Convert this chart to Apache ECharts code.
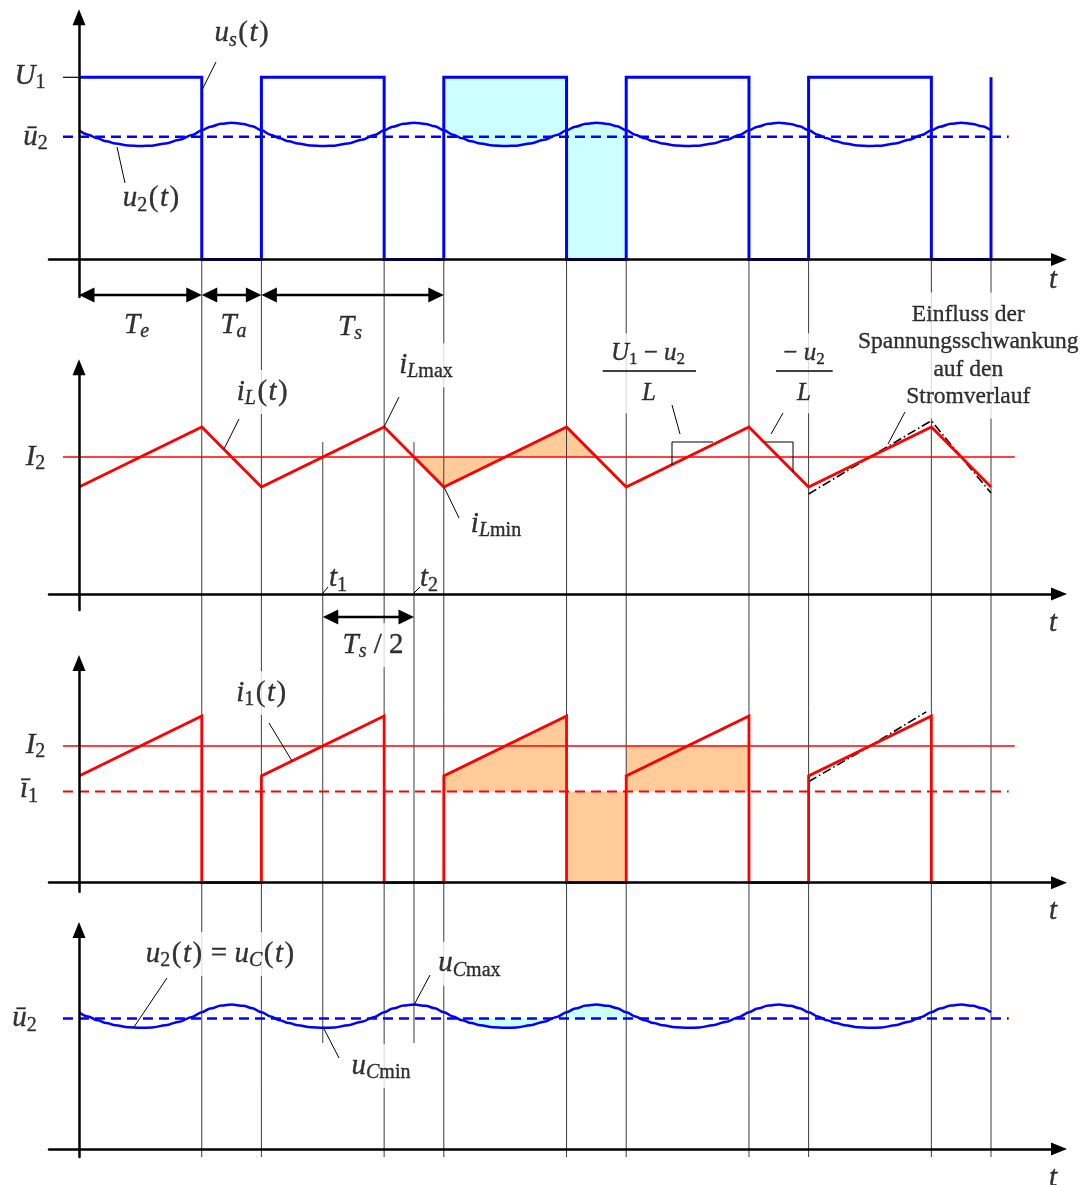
<!DOCTYPE html>
<html>
<head>
<meta charset="utf-8">
<script src="https://cdn.jsdelivr.net/npm/echarts@6.0.0/dist/echarts.min.js"></script>
<style>
html,body{margin:0;padding:0;background:#fff;overflow:hidden}
#chart{width:1085px;height:1185px}
</style>
</head>
<body>
<div id="chart"></div>
<script>
// ================= DATA =================
// time in units of the switching period Ts
const periodStarts = [0, 1, 2, 3, 4];
const periodEnd = 5;
const onTime = 0.673;            // Te / Ts
const tCross1 = 1.3365;          // t1
const tCross2 = 1.8365;          // t2
const tCross3 = 2.8365;          // next falling crossing of I2

// panel 1 : switch voltage and output voltage
const U1 = 1;
const u2Mean1 = 0.674;
// one period of the output-voltage ripple (offset from the mean)
const u2PeriodT = [0, 0.05, 0.1, 0.15, 0.2, 0.27, 0.3365, 0.4, 0.475, 0.55, 0.62, 0.673, 0.72, 0.78, 0.8365, 0.9, 0.95];
const u2Ripple  = [0.035, 0.011, -0.009, -0.025, -0.037, -0.048, -0.051, -0.049, -0.037, -0.017, 0.009, 0.035, 0.055, 0.071, 0.077, 0.070, 0.057];
const u2Mean4 = 0.716;           // level of ū2 in panel 4

// panel 2 / 3 : currents
const I2 = 1;
const iLmax = 1.219;
const iLmin = 0.781;
const i1Mean = 0.667;
const iLDistT = [4, 4.3365, 4.673, 4.8365, 5];
const iLDistV = [0.730, 1.000, 1.265, 1.000, 0.737];
const i1DistT = [4, 4.3365, 4.645];
const i1DistV = [0.739, 1.000, 1.250];

// extents of the horizontal reference lines
const levelStart = -0.088;
const I2End = 5.13;
const meanEnd = 5.097;

// shaded periods
const cyanPeriod = 2;
const cyan4From = 2.05, cyan4To = 3.05;
const orangePeriod = 2;

// ================= LAYOUT =================
const X0 = 79, PXT = 182.4;
const X = px => (px - X0) / PXT;           // overlay helper: pixel column -> t
const xMin = X(49), xMax = X(1059);
const F = '"Liberation Serif","Times New Roman",serif';
const BLUE = '#0000ff', RED = '#ff0000', CYAN = '#ccffff', ORANGE = '#ffcc99';

const gridBoxes = [
  {top: 17.3, height: 279.7},
  {top: 367.3, height: 242.7},
  {top: 663, height: 228.7},
  {top: 930, height: 227},
  {top: 0, height: 1185}
];
const yRanges = [[-0.2058, 1.3293], [-0.1168, 1.6547], [-0.0658, 1.6072], [-0.0439, 1.2020], [0, 1185]];

// ================= BUILD SERIES DATA =================
function buildU2(mean) {
  const pts = [];
  periodStarts.forEach(k => u2PeriodT.forEach((t, j) => pts.push([k + t, mean + u2Ripple[j]])));
  pts.push([periodEnd, mean + u2Ripple[0]]);
  return pts;
}
const u2Top = buildU2(u2Mean1);
const u2Bot = buildU2(u2Mean4);
const inRange = (pts, a, b) => pts.filter(p => p[0] >= a - 1e-9 && p[0] <= b + 1e-9);

const us = [];
periodStarts.forEach(k => us.push([k, U1], [k + onTime, U1], [k + onTime, 0], [k + 1, 0]));
us.push([periodEnd, U1]);

const iL = [];
periodStarts.forEach(k => iL.push([k, iLmin], [k + onTime, iLmax]));
iL.push([periodEnd, iLmin]);

const i1 = [];
periodStarts.forEach(k => i1.push([k, iLmin], [k + onTime, iLmax], [k + onTime, 0], [k + 1, 0]));

const zip = (a, b) => a.map((t, i) => [t, b[i]]);

// ================= ANNOTATIONS (overlay pixel rows) =================
const guideTimes = [];
periodStarts.forEach(k => guideTimes.push(k + onTime, k + 1));
const guides = guideTimes.map(t => [t, 259.5, 1157]).concat([[tCross1, 442, 1043], [tCross2, 442, 1043]]);

const annoLines = [
  {pts: [[63, 77.3], [79, 77.3]], w: 1.2},
  {pts: [[216, 62], [202, 90]], w: 1},
  {pts: [[117, 147], [125, 183]], w: 1},
  {pts: [[239, 419], [224, 449]], w: 1},
  {pts: [[399, 397], [384, 427]], w: 1},
  {pts: [[444, 487], [459, 518]], w: 1},
  {pts: [[328, 587], [323, 593]], w: 1},
  {pts: [[420, 587], [414, 593]], w: 1},
  {pts: [[672, 405], [680, 434]], w: 1},
  {pts: [[771, 434], [783, 413]], w: 1},
  {pts: [[905, 412], [888, 444]], w: 1},
  {pts: [[269, 723], [292, 761]], w: 1},
  {pts: [[167, 978], [134, 1027]], w: 1},
  {pts: [[430, 975], [414, 1005]], w: 1},
  {pts: [[339, 1058], [323, 1027]], w: 1},
  {pts: [[602.7, 371], [696, 371]], w: 1.5},
  {pts: [[776, 371], [832.7, 371]], w: 1.5},
  {pts: [[672, 465], [672, 442], [713, 442]], w: 1},
  {pts: [[765, 442], [793, 442], [793, 472]], w: 1}
];
const dimArrows = [
  [0, onTime, 295], [onTime, 1, 295], [1, 2, 295], [tCross1, tCross2, 617]
];

const L = (px, py, fmt, extra) => ({value: [X(px), py], label: Object.assign({formatter: fmt}, extra || {})});
const labels = [
  L(242.3, 33.5, '{v|u}{s|s}{p|(}{v|t}{p|)}'),
  L(30, 76.2, '{v|U}{sr|1}'),
  L(35.5, 137, '{v|ū}{sr|2}'),
  L(151.7, 198.5, '{v|u}{sr|2}{p|(}{v|t}{p|)}'),
  L(136.5, 325.2, '{v|T}{s|e}'),
  L(233.5, 325.2, '{v|T}{s|a}'),
  L(350, 327.2, '{v|T}{s|s}'),
  L(1053, 280.5, '{v|t}'),
  L(263, 391.9, '{v|i}{s|L}{p|(}{v|t}{p|)}'),
  L(426, 365.2, '{v|i}{s|L}{sr|max}'),
  L(35.5, 456.9, '{v|I}{sr|2}'),
  L(496, 524.2, '{v|i}{s|L}{sr|min}'),
  L(338, 578.5, '{v|t}{sr|1}', {padding: [3, 1]}),
  L(429, 578.5, '{v|t}{sr|2}', {padding: [3, 1]}),
  L(1053, 623.5, '{v|t}'),
  L(373, 645.2, '{v|T}{s|s}{r| / 2}'),
  L(648, 353.3, '{fv|U}{fsr|1}{fr| − }{fv|u}{fsr|2}', {width: 96, align: 'center'}),
  L(649, 393.3, '{fv|L}', {width: 96, align: 'center'}),
  L(804, 353.3, '{fr|− }{fv|u}{fsr|2}', {width: 58, align: 'center'}),
  L(804, 393.3, '{fv|L}', {width: 58, align: 'center'}),
  L(968.3, 355.6, 'Einfluss der\nSpannungsschwankung\nauf den\nStromverlauf',
    {fontFamily: F, fontSize: 23.5, lineHeight: 27.5, padding: [8, 3], align: 'center', color: '#000'}),
  L(262, 693, '{v|i}{sr|1}{p|(}{v|t}{p|)}'),
  L(35.5, 745.2, '{v|I}{sr|2}'),
  L(29, 789.5, '{v|ī}{sr|1}'),
  L(1053, 911.5, '{v|t}'),
  L(220.7, 954, '{v|u}{sr|2}{p|(}{v|t}{p|)}{r| = }{v|u}{s|C}{p|(}{v|t}{p|)}'),
  L(469.4, 963.8, '{v|u}{s|C}{sr|max}'),
  L(381, 1066, '{v|u}{s|C}{sr|min}'),
  L(24.6, 1018.5, '{v|ū}{sr|2}'),
  L(1053, 1178, '{v|t}')
];

const base = {color: '#000', textBorderColor: '#000', textBorderWidth: 0.35, textShadowBlur: 0};
const rich = {
  v:  Object.assign({fontFamily: F, fontStyle: 'italic', fontSize: 29, lineHeight: 34}, base),
  r:  Object.assign({fontFamily: F, fontSize: 29, lineHeight: 34}, base),
  p:  Object.assign({fontFamily: F, fontSize: 29, lineHeight: 34, padding: [0, 1.5, 0, 1.5]}, base),
  s:  Object.assign({fontFamily: F, fontStyle: 'italic', fontSize: 20, lineHeight: 16, verticalAlign: 'bottom'}, base),
  sr: Object.assign({fontFamily: F, fontSize: 20, lineHeight: 16, verticalAlign: 'bottom'}, base),
  fv: Object.assign({fontFamily: F, fontStyle: 'italic', fontSize: 25, lineHeight: 30}, base),
  fr: Object.assign({fontFamily: F, fontSize: 25, lineHeight: 30}, base),
  fsr:Object.assign({fontFamily: F, fontSize: 17, lineHeight: 14, verticalAlign: 'bottom'}, base)
};

// ================= OPTION =================
const axisLine = {show: true, onZero: true, lineStyle: {color: '#000', width: 2.5}, symbol: ['none', 'triangle'], symbolSize: [13, 16]};
const grid = gridBoxes.map(g => ({left: 49, width: 1010, top: g.top, height: g.height, containLabel: false}));
const xAxis = gridBoxes.map((g, i) => ({
  gridIndex: i, type: 'value', min: xMin, max: xMax, show: i < 4, z: 10,
  axisLine: axisLine, axisTick: {show: false}, axisLabel: {show: false}, splitLine: {show: false}
}));
const yAxis = gridBoxes.map((g, i) => ({
  gridIndex: i, type: 'value', min: yRanges[i][0], max: yRanges[i][1], show: i < 4, inverse: i === 4, z: 10,
  axisLine: axisLine, axisTick: {show: false}, axisLabel: {show: false}, splitLine: {show: false}
}));

function line(gi, data, color, width, extra) {
  return Object.assign({
    type: 'line', xAxisIndex: gi, yAxisIndex: gi, data: data, symbol: 'none', showSymbol: false,
    silent: true, z: 5, lineStyle: {color: color, width: width, join: 'miter', cap: 'butt'}
  }, extra || {});
}
function fill(gi, data, color, origin, smooth) {
  return {
    type: 'line', xAxisIndex: gi, yAxisIndex: gi, data: data, symbol: 'none', showSymbol: false, silent: true, z: 1,
    smooth: smooth || false, smoothMonotone: 'x',
    lineStyle: {width: 0, opacity: 0}, areaStyle: {color: color, opacity: 1, origin: origin}
  };
}
const smoothOpt = {smooth: 0.35, smoothMonotone: 'x'};

const series = [
  // ---- fills ----
  fill(0, inRange(u2Top, cyanPeriod, cyanPeriod + onTime), CYAN, U1, 0.35),
  fill(0, inRange(u2Top, cyanPeriod + onTime, cyanPeriod + 1), CYAN, 0, 0.35),
  fill(1, [[tCross2, I2], [orangePeriod, iLmin], [orangePeriod + onTime, iLmax], [tCross3, I2]], ORANGE, I2),
  fill(2, [[orangePeriod, iLmin], [orangePeriod + onTime, iLmax]], ORANGE, i1Mean),
  fill(2, [[orangePeriod + onTime, i1Mean], [orangePeriod + 1, i1Mean]], ORANGE, 0),
  fill(2, [[orangePeriod + 1, I2], [orangePeriod + 1 + onTime, I2]], ORANGE, i1Mean),
  fill(3, inRange(u2Bot, cyan4From, cyan4To), CYAN, u2Mean4, 0.35),
  // ---- panel 1 ----
  line(0, [[levelStart, u2Mean1], [meanEnd, u2Mean1]], BLUE, 2.5, {lineStyle: {color: BLUE, width: 2.5, type: [10, 6]}}),
  line(0, us, BLUE, 3),
  line(0, u2Top, BLUE, 2.5, smoothOpt),
  // ---- panel 2 ----
  line(1, [[levelStart, I2], [I2End, I2]], RED, 1.6),
  line(1, zip(iLDistT, iLDistV), '#000', 1.6, {lineStyle: {color: '#000', width: 1.6, type: [9, 3, 1.5, 3]}}),
  line(1, iL, RED, 2.8),
  // ---- panel 3 ----
  line(2, [[levelStart, I2], [I2End, I2]], RED, 1.6),
  line(2, [[levelStart, i1Mean], [meanEnd, i1Mean]], RED, 2, {lineStyle: {color: RED, width: 2, type: [10, 6]}}),
  line(2, zip(i1DistT, i1DistV), '#000', 1.6, {lineStyle: {color: '#000', width: 1.6, type: [9, 3, 1.5, 3]}}),
  line(2, i1, RED, 2.8),
  // ---- panel 4 ----
  line(3, [[levelStart, u2Mean4], [meanEnd, u2Mean4]], BLUE, 2.5, {lineStyle: {color: BLUE, width: 2.5, type: [10, 6]}}),
  line(3, u2Bot, BLUE, 2.5, smoothOpt),
  // ---- overlay: vertical guides ----
  {
    type: 'custom', xAxisIndex: 4, yAxisIndex: 4, z: 2, silent: true, clip: false,
    data: guides,
    renderItem: function (params, api) {
      const a = api.coord([api.value(0), api.value(1)]);
      const b = api.coord([api.value(0), api.value(2)]);
      return {type: 'line', shape: {x1: a[0], y1: a[1], x2: b[0], y2: b[1]}, style: {stroke: '#3c3c3c', lineWidth: 1}};
    }
  },
  // ---- overlay: labels ----
  {
    type: 'scatter', xAxisIndex: 4, yAxisIndex: 4, z: 4, silent: true, symbolSize: 0, clip: false,
    data: labels,
    label: Object.assign({show: true, position: 'inside', backgroundColor: '#fff', padding: [5, 3], rich: rich}, base),
    emphasis: {disabled: true}
  },
  // ---- overlay: leader lines, fraction bars, slope marks ----
  {
    type: 'custom', xAxisIndex: 4, yAxisIndex: 4, z: 6, silent: true, clip: false,
    data: annoLines.map(a => [X(a.pts[0][0]), a.pts[0][1]]),
    renderItem: function (params, api) {
      const a = annoLines[params.dataIndex];
      const pts = a.pts.map(p => api.coord([X(p[0]), p[1]]));
      return {type: 'polyline', shape: {points: pts}, style: {stroke: '#000', lineWidth: a.w, fill: 'none'}};
    }
  },
  // ---- overlay: dimension arrows ----
  {
    type: 'custom', xAxisIndex: 4, yAxisIndex: 4, z: 6, silent: true, clip: false,
    data: dimArrows,
    renderItem: function (params, api) {
      const a = api.coord([api.value(0), api.value(2)]);
      const b = api.coord([api.value(1), api.value(2)]);
      const hl = 15.5, hw = 7.5, y = a[1];
      return {
        type: 'group', children: [
          {type: 'line', shape: {x1: a[0] + hl - 1, y1: y, x2: b[0] - hl + 1, y2: y}, style: {stroke: '#000', lineWidth: 2.5}},
          {type: 'polygon', shape: {points: [[a[0], y], [a[0] + hl, y - hw], [a[0] + hl, y + hw]]}, style: {fill: '#000'}},
          {type: 'polygon', shape: {points: [[b[0], y], [b[0] - hl, y - hw], [b[0] - hl, y + hw]]}, style: {fill: '#000'}}
        ]
      };
    }
  }
];

const chart = echarts.init(document.getElementById('chart'), null, {renderer: 'canvas'});
chart.setOption({animation: false, backgroundColor: '#fff', grid: grid, xAxis: xAxis, yAxis: yAxis, series: series});
</script>
</body>
</html>
